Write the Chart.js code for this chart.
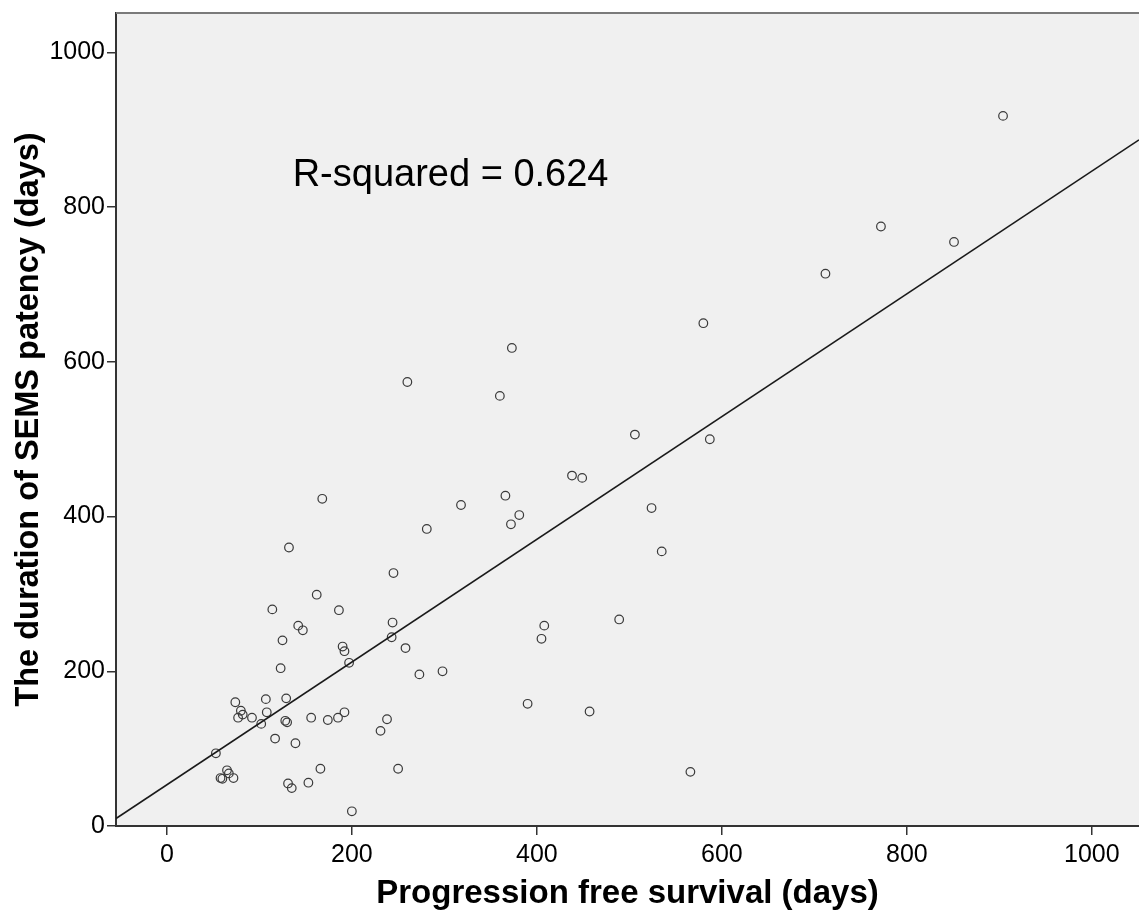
<!DOCTYPE html>
<html>
<head>
<meta charset="utf-8">
<script src="https://cdn.jsdelivr.net/npm/chart.js@4/dist/chart.umd.min.js"></script>
<style>
  html, body { margin: 0; padding: 0; background: #ffffff; overflow: hidden; }
  #wrap { width: 1139px; height: 923px; position: relative; }
  canvas { display: block; }
</style>
</head>
<body>
<div id="wrap"><canvas id="c" width="1139" height="923"></canvas></div>
<script>
// Progression free survival (days)
const pfs = [904, 772, 851, 712, 580, 373, 260, 360, 506, 587,
             438, 449, 366, 168, 318, 381, 372, 524, 281, 132,
             535, 245, 162, 114, 186, 142, 147, 408, 244, 405,
             125, 243, 190, 192, 258, 489, 197, 123, 273, 298,
             74, 107, 129, 80, 82, 108, 77, 92, 102, 128,
             130, 156, 174, 185, 192, 238, 231, 390, 457, 117,
             139, 53, 65, 67, 60, 58, 72, 166, 131, 135,
             153, 200, 250, 566];
// The duration of SEMS patency (days)
const sems = [918, 775, 755, 714, 650, 618, 574, 556, 506, 500,
              453, 450, 427, 423, 415, 402, 390, 411, 384, 360,
              355, 327, 299, 280, 279, 259, 253, 259, 263, 242,
              240, 244, 232, 226, 230, 267, 211, 204, 196, 200,
              160, 164, 165, 149, 144, 147, 140, 140, 132, 136,
              134, 140, 137, 140, 147, 138, 123, 158, 148, 113,
              107, 94, 72, 68, 61, 62, 62, 74, 55, 49,
              56, 19, 74, 70];
// Fit line end points (at the axis limits)
const fitX = [-55, 1051];
const fitY = [9.6, 887];
const xTicks = [0, 200, 400, 600, 800, 1000];
const yTicks = [0, 200, 400, 600, 800, 1000];
const xRange = [-55, 1051];
const yRange = [0, 1051];
const annotationText = 'R-squared = 0.624';
const annotationPos = [136, 827];
const xTitle = 'Progression free survival (days)';
const yTitle = 'The duration of SEMS patency (days)';

const points = pfs.map((v, i) => ({ x: v, y: sems[i] }));
const fitPoints = fitX.map((v, i) => ({ x: v, y: fitY[i] }));

const bgPlugin = {
  id: 'bgPlugin',
  beforeDraw(chart) {
    const { ctx, chartArea: a } = chart;
    ctx.save();
    ctx.fillStyle = '#f0f0f0';
    ctx.fillRect(a.left, a.top, a.right - a.left, a.bottom - a.top);
    ctx.restore();
  },
  afterDraw(chart) {
    const { ctx, chartArea: a, scales } = chart;
    ctx.save();
    ctx.strokeStyle = '#7a7a7a';
    ctx.lineWidth = 2;
    ctx.beginPath();
    ctx.moveTo(a.left, a.top);
    ctx.lineTo(a.right, a.top);
    ctx.stroke();
    ctx.fillStyle = '#000000';
    ctx.font = '38px "Liberation Sans", Arial, sans-serif';
    ctx.textBaseline = 'alphabetic';
    ctx.textAlign = 'left';
    ctx.fillText(annotationText,
      scales.x.getPixelForValue(annotationPos[0]),
      scales.y.getPixelForValue(annotationPos[1]));
    ctx.restore();
  }
};

const tickFont = { family: '"Liberation Sans", Arial, sans-serif', size: 25 };

new Chart(document.getElementById('c'), {
  data: {
    datasets: [
      {
        type: 'scatter',
        data: points,
        pointStyle: 'circle',
        pointRadius: 4.3,
        pointHoverRadius: 4.3,
        borderColor: '#3a3a3a',
        borderWidth: 1.2,
        backgroundColor: 'rgba(0,0,0,0)',
        order: 2
      },
      {
        type: 'line',
        data: fitPoints,
        borderColor: '#1a1a1a',
        borderWidth: 1.6,
        pointRadius: 0,
        fill: false,
        order: 1
      }
    ]
  },
  options: {
    responsive: false,
    animation: false,
    layout: { autoPadding: false, padding: { top: 13, right: 0, left: 0, bottom: 0 } },
    plugins: { legend: { display: false }, tooltip: { enabled: false } },
    scales: {
      x: {
        type: 'linear',
        position: 'bottom',
        min: xRange[0],
        max: xRange[1],
        afterBuildTicks: s => { s.ticks = xTicks.map(v => ({ value: v })); },
        afterFit: s => { s.height = 97; s.paddingLeft = 0; s.paddingRight = 0; },
        grid: { drawOnChartArea: false, drawTicks: true, tickLength: 9, color: '#333333', lineWidth: 1.5 },
        border: { display: true, color: '#333333', width: 2 },
        ticks: {
          color: '#000000',
          padding: 5,
          maxRotation: 0,
          font: tickFont,
          callback: v => String(v)
        },
        title: {
          display: true,
          text: xTitle,
          color: '#000000',
          padding: { top: 0, bottom: 9 },
          font: { family: '"Liberation Sans", Arial, sans-serif', size: 33, weight: 'bold' }
        }
      },
      y: {
        type: 'linear',
        position: 'left',
        min: yRange[0],
        max: yRange[1],
        afterBuildTicks: s => { s.ticks = yTicks.map(v => ({ value: v })); },
        afterFit: s => { s.width = 116; s.paddingTop = 0; s.paddingBottom = 0; },
        grid: { drawOnChartArea: false, drawTicks: true, tickLength: 9, color: '#333333', lineWidth: 1.5 },
        border: { display: true, color: '#333333', width: 2 },
        ticks: {
          color: '#000000',
          padding: 2,
          font: tickFont,
          callback: v => String(v)
        },
        title: {
          display: true,
          text: yTitle,
          color: '#000000',
          padding: { top: 10, bottom: 0 },
          font: { family: '"Liberation Sans", Arial, sans-serif', size: 32.5, weight: 'bold' }
        }
      }
    }
  },
  plugins: [bgPlugin]
});
</script>
</body>
</html>
